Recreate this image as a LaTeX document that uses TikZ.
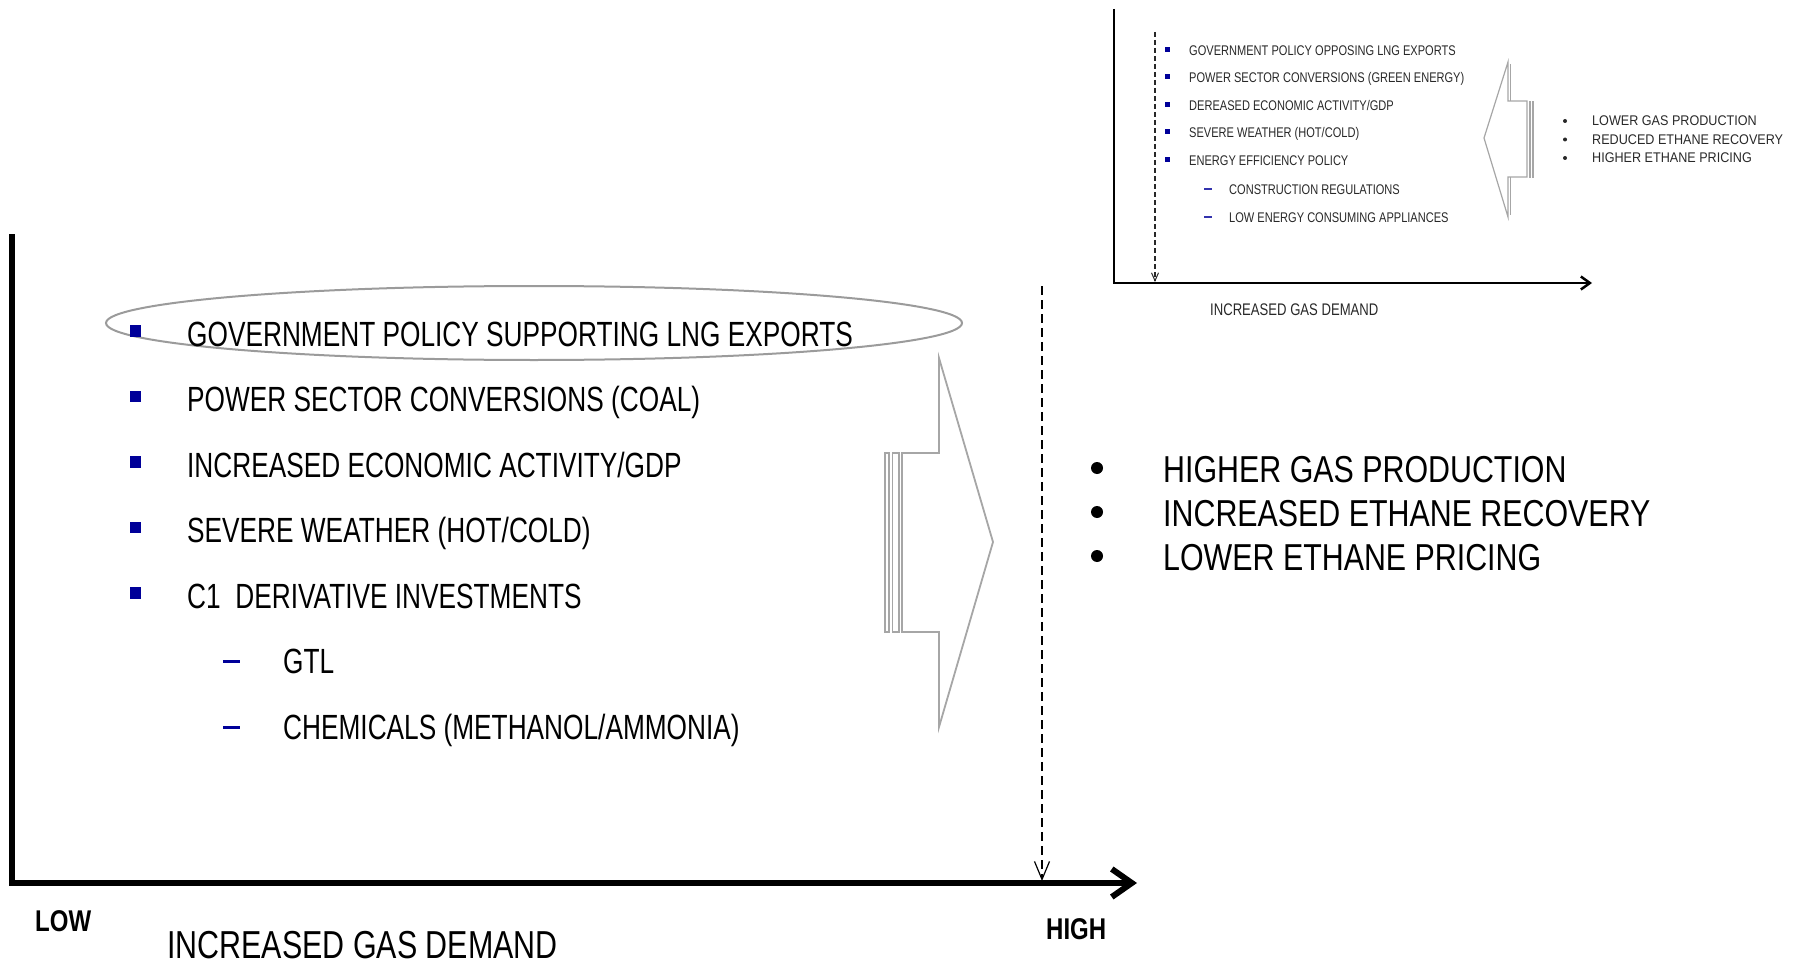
\documentclass[tikz,border=0pt]{standalone}
\usepackage{fontspec}
\setmainfont{Liberation Sans}
\newfontfamily\mainf{Liberation Sans}[FakeStretch=0.75]
\newfontfamily\rightf{Liberation Sans}[FakeStretch=0.81]
\newfontfamily\demandf{Liberation Sans}[FakeStretch=0.78]
\newfontfamily\lhf{Liberation Sans}[FakeStretch=0.8]
\newfontfamily\insetf{Liberation Sans}[FakeStretch=0.79]
\newfontfamily\insetrf{Liberation Sans}[FakeStretch=0.9]
\usetikzlibrary{arrows.meta}
\definecolor{bulletblue}{RGB}{0,0,153}
\definecolor{arrowgray}{RGB}{166,166,166}
\definecolor{ellgray}{RGB}{155,155,155}
\definecolor{insettext}{RGB}{40,40,40}
\begin{document}
\begin{tikzpicture}[x=1pt,y=-1pt,
  maintext/.style={anchor=base west, inner sep=0pt, font=\mainf\fontsize{35pt}{40pt}\selectfont},
  righttext/.style={anchor=base west, inner sep=0pt, font=\rightf\fontsize{37.5pt}{42pt}\selectfont},
  demandtext/.style={anchor=base west, inner sep=0pt, font=\demandf\fontsize{39pt}{44pt}\selectfont},
  lhtext/.style={anchor=base west, inner sep=0pt, font=\lhf\bfseries\fontsize{30pt}{34pt}\selectfont},
  insettxt/.style={anchor=base west, inner sep=0pt, text=insettext, font=\insetf\fontsize{14pt}{16pt}\selectfont},
  insetrtxt/.style={anchor=base west, inner sep=0pt, text=insettext, font=\insetrf\fontsize{14pt}{16pt}\selectfont},
  insetlabel/.style={anchor=base west, inner sep=0pt, text=insettext, font=\demandf\fontsize{16.8pt}{19pt}\selectfont},
  sqbullet/.style={fill=bulletblue, inner sep=0pt, minimum size=11.5pt, draw=none},
  sqbulletsmall/.style={fill=bulletblue, inner sep=0pt, minimum size=5pt, draw=none},
  dashbullet/.style={fill=bulletblue, inner sep=0pt, minimum width=17pt, minimum height=3pt, draw=none},
  dashbulletsmall/.style={fill=bulletblue!80, inner sep=0pt, minimum width=8pt, minimum height=1.8pt, draw=none},
  dotbullet/.style={circle, fill=black, inner sep=0pt, minimum size=12pt, draw=none},
  dotbulletsmall/.style={circle, fill=insettext, inner sep=0pt, minimum size=4pt, draw=none},
  mainaxis/.style={line width=6pt, -{Straight Barb[length=20pt,width=28pt,line width=6pt]}},
  insetaxis/.style={line width=2.5pt, -{Straight Barb[length=9pt,width=13pt,line width=2.5pt]}},
  dropline/.style={line width=1.4pt, dash pattern=on 9pt off 5pt, -{Straight Barb[length=18pt,width=15pt,line width=1.2pt]}},
  droplinesmall/.style={line width=1.1pt, color=insettext, dash pattern=on 5pt off 3pt, -{Straight Barb[length=8pt,width=7pt,line width=1pt]}},
  bigarrow/.style={draw=arrowgray, line width=1.8pt, line join=miter},
  smallarrow/.style={draw=arrowgray, line width=1.2pt, line join=miter},
]
\useasboundingbox (0,0) rectangle (1810,963);

% ---------------- main chart ----------------
\coordinate (ytop) at (11.5,234);
\coordinate (origin) at (11.5,883);
\coordinate (xend) at (1137,883);
\draw[mainaxis] (ytop) -- (origin) -- (xend);

\coordinate (droptop) at (1042,286);
\coordinate (dropbot) at (1042,881);
\draw[dropline] (droptop) -- (dropbot);

\node[lhtext] (low) at (35,931) {LOW};
\node[lhtext] (high) at (1046,939) {HIGH};
\node[demandtext] (demand) at (167,958) {INCREASED GAS DEMAND};

% highlight ellipse
\draw[ellgray, line width=2pt] (534,323) ellipse [x radius=428, y radius=37];

% bullets
\node[sqbullet] (b1) at (135.5,331) {};
\node[maintext] (t1) at (187,346) {GOVERNMENT POLICY SUPPORTING LNG EXPORTS};
\node[sqbullet] (b2) at (135.5,396.5) {};
\node[maintext] (t2) at (187,411.5) {POWER SECTOR CONVERSIONS (COAL)};
\node[sqbullet] (b3) at (135.5,462) {};
\node[maintext] (t3) at (187,477) {INCREASED ECONOMIC ACTIVITY/GDP};
\node[sqbullet] (b4) at (135.5,527.5) {};
\node[maintext] (t4) at (187,542.5) {SEVERE WEATHER (HOT/COLD)};
\node[sqbullet] (b5) at (135.5,593) {};
\node[maintext] (t5) at (187,608) {C1\hspace{0.42em}DERIVATIVE INVESTMENTS};
\node[dashbullet] (d1) at (231.5,661.5) {};
\node[maintext] (t6) at (283,673.5) {GTL};
\node[dashbullet] (d2) at (231.5,727.5) {};
\node[maintext] (t7) at (283,739) {CHEMICALS (METHANOL/AMMONIA)};

% big right arrow
\draw[bigarrow] (902,453) -- (939,453) -- (939,358) -- (993,542) -- (939,727) -- (939,632) -- (902,632) -- cycle;
\draw[smallarrow] (885,453) rectangle (889,632);
\draw[smallarrow] (892.5,453) rectangle (899,632);

% right results
\node[dotbullet] (r1b) at (1097,468) {};
\node[righttext] (r1) at (1163,482) {HIGHER GAS PRODUCTION};
\node[dotbullet] (r2b) at (1097,512) {};
\node[righttext] (r2) at (1163,526) {INCREASED ETHANE RECOVERY};
\node[dotbullet] (r3b) at (1097,556) {};
\node[righttext] (r3) at (1163,570) {LOWER ETHANE PRICING};

% ---------------- inset chart ----------------
\coordinate (iytop) at (1114,9);
\coordinate (iorigin) at (1114,283);
\coordinate (ixend) at (1592,283);
\draw[insetaxis] (iytop) -- (iorigin) -- (ixend);

\coordinate (idroptop) at (1155,32);
\coordinate (idropbot) at (1155,282);
\draw[droplinesmall] (idroptop) -- (idropbot);

\node[sqbulletsmall] (ib1) at (1167.5,49.5) {};
\node[insettxt] (it1) at (1189,56) {GOVERNMENT POLICY OPPOSING LNG EXPORTS};
\node[sqbulletsmall] (ib2) at (1167.5,76.5) {};
\node[insettxt] (it2) at (1189,83) {POWER SECTOR CONVERSIONS (GREEN ENERGY)};
\node[sqbulletsmall] (ib3) at (1167.5,104.5) {};
\node[insettxt] (it3) at (1189,111) {DEREASED ECONOMIC ACTIVITY/GDP};
\node[sqbulletsmall] (ib4) at (1167.5,131.5) {};
\node[insettxt] (it4) at (1189,138) {SEVERE WEATHER (HOT/COLD)};
\node[sqbulletsmall] (ib5) at (1167.5,159.5) {};
\node[insettxt] (it5) at (1189,166) {ENERGY EFFICIENCY POLICY};
\node[dashbulletsmall] (id1) at (1207.5,189) {};
\node[insettxt] (it6) at (1229,194) {CONSTRUCTION REGULATIONS};
\node[dashbulletsmall] (id2) at (1207.5,217) {};
\node[insettxt] (it7) at (1229,222) {LOW ENERGY CONSUMING APPLIANCES};

\node[insetlabel] (idemand) at (1210,315) {INCREASED GAS DEMAND};

% inset left arrow
\draw[smallarrow] (1527,101) -- (1508,101) -- (1508,62) -- (1484,138) -- (1508,217) -- (1508,177) -- (1527,177) -- cycle;
\draw[arrowgray, line width=0.9pt] (1529,101) rectangle (1530.5,177);
\draw[arrowgray, line width=0.9pt] (1532,101) rectangle (1533.5,177);
\draw[arrowgray, line width=1pt] (1510,64) -- (1510,101);
\draw[arrowgray, line width=1pt] (1510,177) -- (1510,215);

\node[dotbulletsmall] (ir1b) at (1565,121) {};
\node[insetrtxt] (ir1) at (1592,126) {LOWER GAS PRODUCTION};
\node[dotbulletsmall] (ir2b) at (1565,139.5) {};
\node[insetrtxt] (ir2) at (1592,144.5) {REDUCED ETHANE RECOVERY};
\node[dotbulletsmall] (ir3b) at (1565,158) {};
\node[insetrtxt] (ir3) at (1592,163) {HIGHER ETHANE PRICING};
\end{tikzpicture}
\end{document}
